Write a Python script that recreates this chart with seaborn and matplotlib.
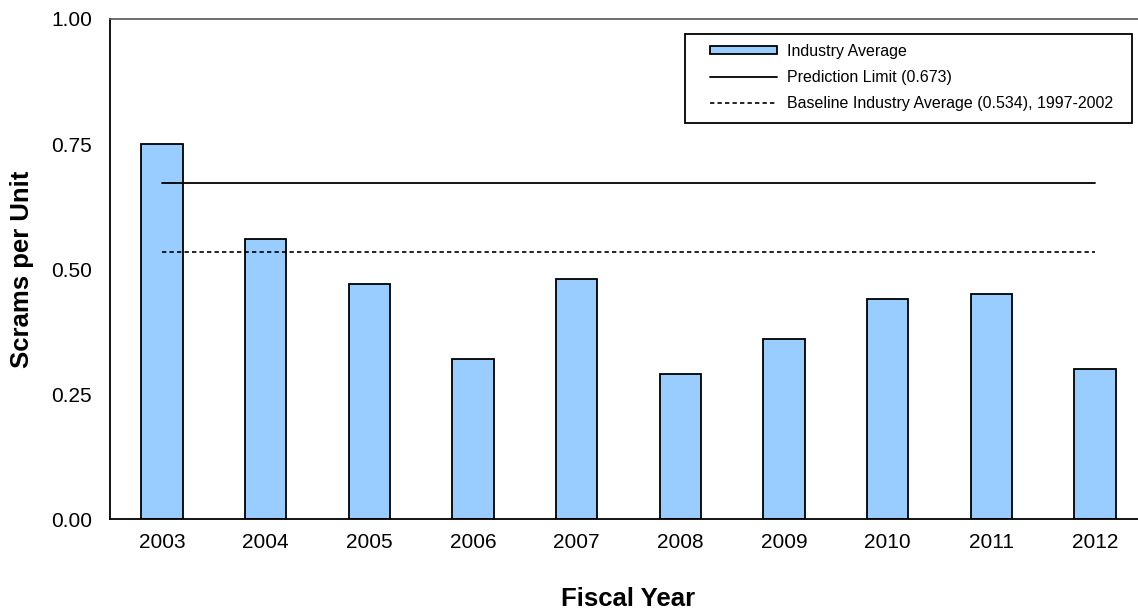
import numpy as np
import pandas as pd
import matplotlib
matplotlib.use("Agg")
import matplotlib.pyplot as plt
import seaborn as sns
from matplotlib.patches import Patch, Rectangle
from matplotlib.lines import Line2D

# -------------------- Data --------------------
years = ["2003", "2004", "2005", "2006", "2007", "2008", "2009", "2010", "2011", "2012"]
industry_avg = [0.75, 0.56, 0.47, 0.32, 0.48, 0.29, 0.36, 0.44, 0.45, 0.30]
prediction_limit = 0.673
baseline_avg = 0.534
y_ticks = [0.00, 0.25, 0.50, 0.75, 1.00]

legend_labels = ["Industry Average",
                 "Prediction Limit (0.673)",
                 "Baseline Industry Average (0.534), 1997-2002"]

df = pd.DataFrame({"year": years, "avg": industry_avg})

BAR_COLOR = "#99CCFF"

# -------------------- Plot --------------------
sns.set_style("white")
plt.rcParams["font.family"] = ["Liberation Sans", "DejaVu Sans"]
plt.rcParams["text.color"] = "black"
plt.rcParams["axes.labelcolor"] = "black"
plt.rcParams["xtick.color"] = "black"
plt.rcParams["ytick.color"] = "black"

fig = plt.figure(figsize=(11.38, 6.09), dpi=100)
W, H = 1138, 609
ax = fig.add_axes([110 / W, (H - 519.3) / H, 1037 / W, 500.3 / H])

sns.barplot(data=df, x="year", y="avg", color=BAR_COLOR, width=0.4,
            edgecolor="black", linewidth=1.3, saturation=1, ax=ax)

# reference lines spanning first to last year
ax.plot(years, [prediction_limit] * len(years), color="black", lw=1.3)
ax.plot(years, [baseline_avg] * len(years), color="black", lw=1.2,
        linestyle=(0, (2.6, 1.9)))

ax.set_xlim(-0.5, len(years) - 0.5)
ax.set_ylim(0, 1.0)
ax.set_yticks(y_ticks)
ax.set_yticklabels([f"{t:.2f}" for t in y_ticks])

ax.tick_params(axis="both", length=0, labelsize=15, labelcolor="black")
ax.tick_params(axis="y", pad=13)
ax.tick_params(axis="x", pad=10)

ax.set_xlabel("Fiscal Year", fontsize=18.5, fontweight="bold", labelpad=25, color="black")
ax.set_ylabel("Scrams per Unit", fontsize=18.5, fontweight="bold", labelpad=12, color="black")

for side in ["left", "bottom"]:
    ax.spines[side].set_color("black")
    ax.spines[side].set_linewidth(1.3)
ax.spines["top"].set_color("#555555")
ax.spines["top"].set_linewidth(1.2)
ax.spines["right"].set_visible(False)

# -------------------- Legend --------------------
handles = [
    Patch(facecolor=BAR_COLOR, edgecolor="black", linewidth=1.3),
    Line2D([], [], color="black", lw=1.3),
    Line2D([], [], color="black", lw=1.2, linestyle=(0, (2.6, 1.9))),
]
frame = Rectangle((685 / W, 1 - 123 / H), (1132 - 685) / W, (123 - 34) / H,
                  transform=fig.transFigure, facecolor="white",
                  edgecolor="black", linewidth=1.3, zorder=5, clip_on=False)
ax.add_artist(frame)
leg = ax.legend(handles, legend_labels, loc="upper left",
                bbox_to_anchor=(710 / W, 1 - 44 / H), bbox_transform=fig.transFigure,
                frameon=False, fontsize=11.5, handlelength=4.2, handleheight=0.4,
                handletextpad=0.6, labelspacing=0.68, borderpad=0, borderaxespad=0)
leg.set_zorder(6)

fig.savefig("out.png", dpi=100)
